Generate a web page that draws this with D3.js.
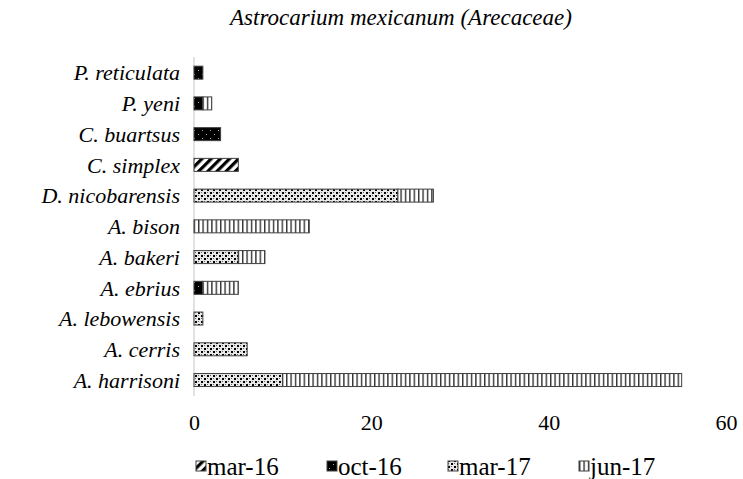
<!DOCTYPE html>
<meta charset="utf-8">
<html>
<head>
    <meta charset="utf-8">
    <title>Astrocarium mexicanum</title>
    <style>
        body { margin: 0; background: #fff; }
    </style>
</head>
<body>
    <script src="https://d3js.org/d3.v7.min.js"></script>
    <script>
        // data
        const species = ['P. reticulata', 'P. yeni', 'C. buartsus', 'C. simplex', 'D. nicobarensis',
            'A. bison', 'A. bakeri', 'A. ebrius', 'A. lebowensis', 'A. cerris', 'A. harrisoni'];
        const seriesNames = ['mar-16', 'oct-16', 'mar-17', 'jun-17'];
        const mar16 = [0, 0, 0, 5, 0, 0, 0, 0, 0, 0, 0];
        const oct16 = [1, 1, 3, 0, 0, 0, 0, 1, 0, 0, 0];
        const mar17 = [0, 0, 0, 0, 23, 0, 5, 0, 1, 6, 10];
        const jun17 = [0, 1, 0, 0, 4, 13, 3, 4, 0, 0, 45];
        const xTicks = [0, 20, 40, 60];
        const title = 'Astrocarium mexicanum (Arecaceae)';

        const width = 743, height = 479;
        const fontFamily = "'Liberation Serif'";

        const svg = d3.select("body").append("svg")
            .attr("width", width)
            .attr("height", height);

        // patterns
        const defs = svg.append("defs");
        const pStripe = defs.append("pattern")
            .attr("id", "p-mar16")
            .attr("patternUnits", "userSpaceOnUse")
            .attr("width", 6.5).attr("height", 6.5)
            .attr("patternTransform", "rotate(45)");
        pStripe.append("rect").attr("width", 6.5).attr("height", 6.5).attr("fill", "#fff");
        pStripe.append("rect").attr("width", 3.2).attr("height", 6.5).attr("fill", "#000");

        const pBlack = defs.append("pattern")
            .attr("id", "p-oct16")
            .attr("patternUnits", "userSpaceOnUse")
            .attr("width", 8).attr("height", 8);
        pBlack.append("rect").attr("width", 8).attr("height", 8).attr("fill", "#000");
        pBlack.append("rect").attr("x", 2).attr("y", 2).attr("width", 1).attr("height", 1).attr("fill", "#aaa");
        pBlack.append("rect").attr("x", 6).attr("y", 6).attr("width", 1).attr("height", 1).attr("fill", "#aaa");

        const pDots = defs.append("pattern")
            .attr("id", "p-mar17")
            .attr("patternUnits", "userSpaceOnUse")
            .attr("width", 6).attr("height", 6);
        pDots.append("rect").attr("width", 6).attr("height", 6).attr("fill", "#e8e8e8");
        pDots.append("rect").attr("x", 0).attr("y", 0).attr("width", 2).attr("height", 2).attr("fill", "#000");
        pDots.append("rect").attr("x", 3).attr("y", 3).attr("width", 2).attr("height", 2).attr("fill", "#000");
        pDots.append("rect").attr("x", 3).attr("y", 0).attr("width", 1).attr("height", 1).attr("fill", "#666");
        pDots.append("rect").attr("x", 0).attr("y", 3).attr("width", 1).attr("height", 1).attr("fill", "#666");

        const pLines = defs.append("pattern")
            .attr("id", "p-jun17")
            .attr("patternUnits", "userSpaceOnUse")
            .attr("width", 4.4).attr("height", 10);
        pLines.append("rect").attr("width", 4.4).attr("height", 10).attr("fill", "#fff");
        pLines.append("rect").attr("width", 1.4).attr("height", 10).attr("fill", "#333");

        const fills = ["url(#p-mar16)", "url(#p-oct16)", "url(#p-mar17)", "url(#p-jun17)"];

        // scales
        const scaleX = d3.scaleLinear()
            .domain([0, 60])
            .range([194, 726]);
        const scaleY = d3.scaleBand()
            .domain(species)
            .range([57.3, 395.4])
            .paddingInner(0.577)
            .paddingOuter(0.2885);

        // stack
        const table = species.map((s, i) => ({
            species: s, 'mar-16': mar16[i], 'oct-16': oct16[i], 'mar-17': mar17[i], 'jun-17': jun17[i]
        }));
        const stacked = d3.stack().keys(seriesNames)(table);

        // title
        svg.append("text")
            .attr("x", 401)
            .attr("y", 25)
            .attr("text-anchor", "middle")
            .attr("font-size", 23)
            .attr("font-style", "italic")
            .style("font-family", fontFamily)
            .text(title);

        // y axis line
        svg.append("line")
            .attr("x1", scaleX(0)).attr("x2", scaleX(0))
            .attr("y1", 57).attr("y2", 396)
            .attr("stroke", "#d9d9d9")
            .attr("stroke-width", 1.5);

        // bars
        const groupMarks = svg.append("g").attr("class", "groupMarks");
        stacked.forEach((layer, k) => {
            groupMarks.append("g")
                .selectAll("rect")
                .data(layer.filter(d => d[1] - d[0] > 0))
                .join("rect")
                .attr("x", d => scaleX(d[0]))
                .attr("y", d => scaleY(d.data.species))
                .attr("width", d => scaleX(d[1]) - scaleX(d[0]))
                .attr("height", scaleY.bandwidth())
                .attr("fill", fills[k])
                .attr("stroke", "#404040")
                .attr("stroke-width", 1);
        });

        // category labels
        svg.append("g")
            .selectAll("text")
            .data(species)
            .join("text")
            .attr("x", 180)
            .attr("y", d => scaleY(d) + scaleY.bandwidth() / 2)
            .attr("dy", "0.35em")
            .attr("text-anchor", "end")
            .attr("font-size", 22)
            .attr("font-style", "italic")
            .style("font-family", fontFamily)
            .text(d => d);

        // x axis
        const groupAxisX = svg.append("g")
            .attr("transform", "translate(0, 414)")
            .call(d3.axisBottom(scaleX).tickValues(xTicks).tickSize(0).tickPadding(0));
        groupAxisX.select(".domain").remove();
        groupAxisX.selectAll("text")
            .attr("font-size", 22)
            .attr("fill", "#000")
            .style("font-family", fontFamily);

        // legend
        const legendX = [196, 327, 448, 579];
        const groupLegend = svg.append("g").attr("transform", "translate(0, 466)");
        seriesNames.forEach((name, k) => {
            const g = groupLegend.append("g").attr("transform", `translate(${legendX[k]}, 0)`);
            g.append("rect")
                .attr("x", 0).attr("y", -5)
                .attr("width", 10).attr("height", 10)
                .attr("fill", fills[k])
                .attr("stroke", "#404040")
                .attr("stroke-width", 1);
            g.append("text")
                .attr("x", 11)
                .attr("y", 0)
                .attr("dy", "0.35em")
                .attr("font-size", 25)
                .style("font-family", fontFamily)
                .text(name);
        });
    </script>
</body>
</html>
